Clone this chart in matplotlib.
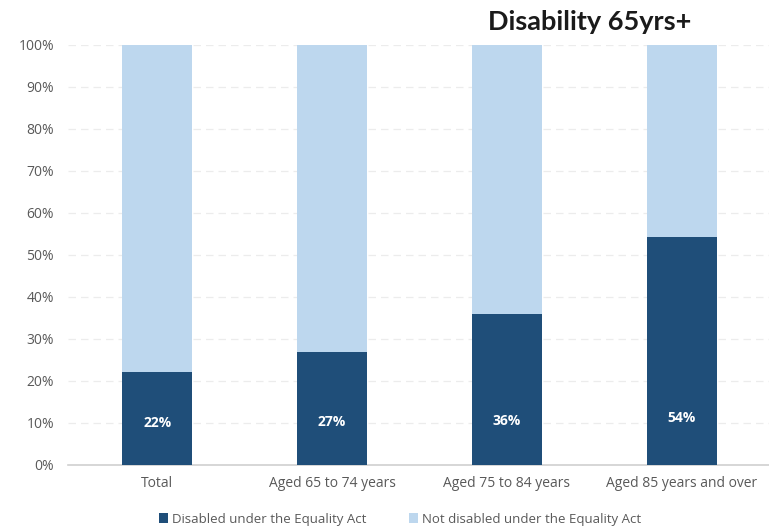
import matplotlib.pyplot as plt
import numpy as np

categories = ["Total", "Aged 65 to 74 years", "Aged 75 to 84 years", "Aged 85 years and over"]
disabled = [22.1, 26.9, 36.0, 54.3]
not_disabled = [100 - v for v in disabled]
labels = ["22%", "27%", "36%", "54%"]

dark = "#1f4e79"
light = "#bdd7ee"
grey = "#595959"

plt.rcParams["font.family"] = ["Open Sans", "DejaVu Sans"]

fig = plt.figure(figsize=(7.69, 5.26), dpi=100)
ax = fig.add_axes([68 / 769, 61 / 526, 701 / 769, 420 / 526])

x = np.arange(len(categories))
ax.bar(x, disabled, width=0.4, color=dark, label="Disabled under the Equality Act", zorder=3)
ax.bar(x, not_disabled, width=0.4, bottom=disabled, color=light,
       label="Not disabled under the Equality Act", zorder=3)

for xi, v, t in zip(x, disabled, labels):
    ax.text(xi, 10 + 0.035 * v - 0.7, t, ha="center", va="center", color="white",
            fontsize=10, fontweight="bold", zorder=4)

ax.set_xlim(-0.51, 3.5)
ax.set_ylim(0, 100)
ax.set_yticks(np.arange(0, 101, 10))
ax.set_yticklabels([f"{v}%" for v in range(0, 101, 10)])
ax.set_xticks(x)
ax.set_xticklabels(categories)
ax.tick_params(axis="both", length=0, colors=grey, labelsize=10)
ax.tick_params(axis="y", pad=10)
ax.tick_params(axis="x", pad=8)
ax.grid(axis="y", color="#ececec", linestyle=(0, (6, 4)), linewidth=0.9, zorder=0)
for s in ["top", "right", "left"]:
    ax.spines[s].set_visible(False)
ax.spines["bottom"].set_color("#d0d0d0")
ax.spines["bottom"].set_linewidth(1.2)

fig.text(590 / 769, 1 - 22 / 526, "Disability 65yrs+", ha="center", va="center",
         fontsize=19.5, fontweight="bold", color="#1a1a1a", family=["Lato", "DejaVu Sans"])

leg = fig.legend(loc="center", bbox_to_anchor=(400 / 769, 1 - 519 / 526), ncol=2,
                 frameon=False, fontsize=9.5, handlelength=0.7, handleheight=0.7,
                 columnspacing=3.2, handletextpad=0.3)
for t in leg.get_texts():
    t.set_color(grey)

fig.savefig("out.png", dpi=100)
